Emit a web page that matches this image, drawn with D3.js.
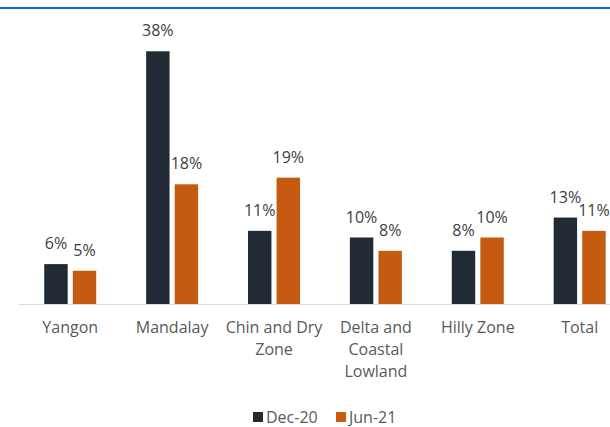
<!DOCTYPE html>
<html>
<head>
<meta charset="utf-8">
<script src="https://cdn.jsdelivr.net/npm/d3@7"></script>
<style>
  html, body { margin: 0; padding: 0; background: #fff; }
  svg { display: block; }
  text { font-family: "Open Sans", sans-serif; }
</style>
</head>
<body>
<svg id="chart" width="610" height="427"></svg>
<script>
// Regions and their wrapped axis labels
const categories = ["Yangon", "Mandalay", "Chin and Dry Zone", "Delta and Coastal Lowland", "Hilly Zone", "Total"];
const tickLabels = [["Yangon"], ["Mandalay"], ["Chin and Dry", "Zone"], ["Delta and", "Coastal", "Lowland"], ["Hilly Zone"], ["Total"]];

// Share (%) per survey round
const seriesNames = ["Dec-20", "Jun-21"];
const dec20 = [6, 38, 11, 10, 8, 13];
const jun21 = [5, 18, 19, 8, 10, 11];
const seriesColors = ["#222a35", "#c55a11"];

const svg = d3.select("#chart");
const W = 610, H = 427;
const baseY = 304;

// Top rule
svg.append("rect").attr("x", 0).attr("y", 7).attr("width", W).attr("height", 2).attr("fill", "#0a6fba");

const x0 = d3.scaleBand().domain(categories).range([19.3, 630.6]).padding(0);
const x1 = d3.scaleBand().domain(seriesNames)
  .range([x0.bandwidth() / 2 - 26, x0.bandwidth() / 2 + 26])
  .paddingInner(0.18).paddingOuter(0);
const y = d3.scaleLinear().domain([0, 40]).range([baseY, baseY - 266]);

const rows = categories.map((c, i) => ({ cat: c, values: [dec20[i], jun21[i]] }));

const groups = svg.append("g").selectAll("g").data(rows).join("g")
  .attr("transform", d => `translate(${x0(d.cat)},0)`);

groups.selectAll("rect").data(d => d.values.map((v, k) => ({ v, k })))
  .join("rect")
  .attr("x", d => x1(seriesNames[d.k]))
  .attr("y", d => y(d.v))
  .attr("width", x1.bandwidth())
  .attr("height", d => y(0) - y(d.v))
  .attr("fill", d => seriesColors[d.k]);

groups.selectAll("text.val").data(d => d.values.map((v, k) => ({ v, k })))
  .join("text")
  .attr("class", "val")
  .attr("x", d => x1(seriesNames[d.k]) + x1.bandwidth() / 2)
  .attr("y", d => y(d.v) - 15)
  .attr("text-anchor", "middle")
  .attr("font-size", 16)
  .attr("fill", "#404040")
  .text(d => d.v + "%");

// Category axis
const axis = svg.append("g").attr("transform", `translate(0,${baseY})`)
  .call(d3.axisBottom(x0).tickSize(0).tickFormat(""));
axis.select(".domain").remove();
axis.append("line").attr("x1", 19).attr("x2", W).attr("y1", 0.5).attr("y2", 0.5)
  .attr("stroke", "#d9d9d9").attr("stroke-width", 1.2);

axis.selectAll(".tick").each(function (d, i) {
  const t = d3.select(this).append("text")
    .attr("text-anchor", "middle")
    .attr("font-size", 16)
    .attr("fill", "#595959");
  tickLabels[i].forEach((line, j) => {
    t.append("tspan").attr("x", 0).attr("y", 29 + j * 22).text(line);
  });
});

// Legend
const legend = svg.append("g");
const legendX = [253, 336];
seriesNames.forEach((name, k) => {
  legend.append("rect").attr("x", legendX[k]).attr("y", 412).attr("width", 10).attr("height", 10)
    .attr("fill", seriesColors[k]);
  legend.append("text").attr("x", legendX[k] + 13).attr("y", 423)
    .attr("font-size", 16).attr("fill", "#595959").text(name);
});
</script>
</body>
</html>
